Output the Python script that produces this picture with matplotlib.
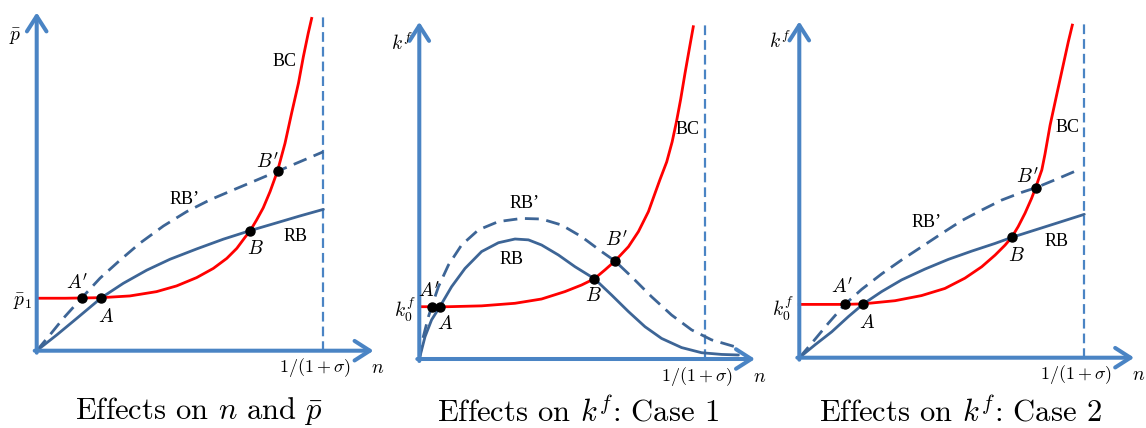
import matplotlib
matplotlib.use("Agg")
import matplotlib.pyplot as plt

plt.rcParams["mathtext.fontset"] = "cm"
plt.rcParams["lines.scale_dashes"] = False

W, H = 1146, 428

# ---------------- data (n scaled so that 1/(1+sigma) = 1) ----------------
# Panel 1: Effects on n and p-bar
p1_bc_n = [0.0, 0.100, 0.226, 0.325, 0.418, 0.488, 0.558, 0.616, 0.663, 0.698, 0.727,
           0.745, 0.767, 0.790, 0.814, 0.840, 0.866, 0.889, 0.913, 0.930, 0.947, 0.959]
p1_bc_y = [0.183, 0.183, 0.185, 0.191, 0.206, 0.226, 0.255, 0.287, 0.322, 0.357, 0.396,
           0.419, 0.456, 0.498, 0.555, 0.627, 0.723, 0.828, 0.933, 1.025, 1.107, 1.159]
p1_rb_n = [0.0, 0.070, 0.140, 0.226, 0.302, 0.384, 0.465, 0.558, 0.651, 0.745, 0.837,
           0.918, 1.0]
p1_rb_y = [0.0, 0.055, 0.113, 0.185, 0.235, 0.281, 0.319, 0.355, 0.389, 0.419, 0.446,
           0.470, 0.493]
p1_rb2_n = [0.0, 0.046, 0.093, 0.157, 0.221, 0.291, 0.360, 0.442, 0.523, 0.604, 0.686,
            0.767, 0.840, 0.918, 1.0]
p1_rb2_y = [0.0, 0.055, 0.113, 0.184, 0.253, 0.316, 0.375, 0.435, 0.485, 0.526, 0.561,
            0.595, 0.626, 0.659, 0.694]
p1_eq_n = [0.157, 0.226, 0.745, 0.840]
p1_eq_y = [0.184, 0.185, 0.419, 0.626]

# Panel 2: Effects on k^f, Case 1
p2_bc_n = [0.0, 0.100, 0.218, 0.335, 0.428, 0.510, 0.568, 0.613, 0.650, 0.685, 0.732,
           0.767, 0.802, 0.825, 0.842, 0.866, 0.885, 0.900, 0.915, 0.930, 0.945, 0.959]
p2_bc_y = [0.183, 0.183, 0.186, 0.195, 0.210, 0.236, 0.259, 0.281, 0.312, 0.343, 0.393,
           0.446, 0.516, 0.580, 0.627, 0.690, 0.760, 0.830, 0.910, 1.000, 1.085, 1.163]
p2_rb_n = [0.0, 0.020, 0.043, 0.072, 0.113, 0.160, 0.218, 0.277, 0.335, 0.382, 0.428,
           0.487, 0.545, 0.613, 0.673, 0.732, 0.790, 0.848, 0.918, 0.988, 1.058, 1.117]
p2_rb_y = [0.0, 0.078, 0.137, 0.183, 0.253, 0.317, 0.376, 0.407, 0.420, 0.417, 0.399,
           0.364, 0.323, 0.281, 0.224, 0.166, 0.113, 0.072, 0.040, 0.022, 0.016, 0.014]
p2_rb2_n = [0.0, 0.014, 0.032, 0.043, 0.067, 0.102, 0.148, 0.207, 0.277, 0.358, 0.428,
            0.498, 0.568, 0.638, 0.685, 0.743, 0.813, 0.883, 0.953, 1.023, 1.105]
p2_rb2_y = [0.0, 0.078, 0.148, 0.183, 0.253, 0.329, 0.399, 0.452, 0.481, 0.492, 0.490,
            0.469, 0.428, 0.376, 0.343, 0.288, 0.218, 0.154, 0.102, 0.067, 0.043]
p2_eq_n = [0.043, 0.072, 0.613, 0.685]
p2_eq_y = [0.183, 0.183, 0.281, 0.343]

# Panel 3: Effects on k^f, Case 2
p3_bc_n = [0.0, 0.160, 0.225, 0.336, 0.429, 0.511, 0.581, 0.640, 0.687, 0.722, 0.745,
           0.768, 0.792, 0.815, 0.829, 0.851, 0.862, 0.880, 0.903, 0.926, 0.944, 0.958]
p3_bc_y = [0.187, 0.187, 0.189, 0.200, 0.218, 0.243, 0.279, 0.319, 0.360, 0.395, 0.422,
           0.460, 0.507, 0.559, 0.596, 0.659, 0.714, 0.816, 0.922, 1.027, 1.109, 1.167]
p3_rb_n = [0.0, 0.055, 0.114, 0.172, 0.225, 0.289, 0.359, 0.441, 0.523, 0.605, 0.687,
           0.745, 0.827, 0.909, 1.0]
p3_rb_y = [0.0, 0.045, 0.091, 0.144, 0.189, 0.232, 0.273, 0.311, 0.345, 0.374, 0.401,
           0.422, 0.448, 0.474, 0.503]
p3_rb2_n = [0.0, 0.043, 0.102, 0.160, 0.219, 0.289, 0.359, 0.429, 0.500, 0.570, 0.640,
            0.710, 0.780, 0.829, 0.897, 0.979]
p3_rb2_y = [0.0, 0.050, 0.121, 0.187, 0.240, 0.294, 0.343, 0.389, 0.436, 0.481, 0.518,
            0.553, 0.580, 0.596, 0.624, 0.659]
p3_eq_n = [0.160, 0.225, 0.745, 0.829]
p3_eq_y = [0.187, 0.189, 0.422, 0.596]

titles = [r"Effects on $n$ and $\bar{p}$",
          r"Effects on $k^f$: Case 1",
          r"Effects on $k^f$: Case 2"]
ylabels = [r"$\bar{p}$", r"$k^f$", r"$k^f$"]
level_labels = [r"$\bar{p}_1$", r"$k_0^f$", r"$k_0^f$"]
xtick_label = r"$1/(1+\sigma)$"
xlabel = r"$n$"

# ---------------- styles / layout ----------------
AX_C = "#4a84c4"
RB_C = "#3d6596"
BC_C = "#ff0000"

# (origin x px, origin y px, px per unit, region left px, region right px)
layouts = [(36.7, 350.7, 286.7, 0, 380),
           (419.3, 359.0, 285.7, 380, 770),
           (799.3, 357.7, 285.0, 770, 1146)]

# label positions (data units) per panel
lab_pos = [
    dict(BC=(0.866, 1.007), RBp=(0.517, 0.529), RB=(0.904, 0.400),
         Bp=(0.803, 0.658), B=(0.764, 0.358), Ap=(0.141, 0.236), A=(0.242, 0.118),
         lvl=(-0.051, 0.170), yl=(-0.076, 1.094), title=(199, 419)),
    dict(BC=(0.940, 0.805), RBp=(0.370, 0.546), RB=(0.324, 0.350),
         Bp=(0.689, 0.417), B=(0.608, 0.221), Ap=(0.034, 0.238), A=(0.090, 0.126),
         lvl=(-0.050, 0.172), yl=(-0.061, 1.106), title=(578, 422)),
    dict(BC=(0.942, 0.809), RBp=(0.447, 0.473), RB=(0.904, 0.406),
         Bp=(0.801, 0.634), B=(0.763, 0.360), Ap=(0.149, 0.248), A=(0.236, 0.122),
         lvl=(-0.058, 0.174), yl=(-0.068, 1.111), title=(960, 421)),
]

panels = [
    (p1_bc_n, p1_bc_y, p1_rb_n, p1_rb_y, p1_rb2_n, p1_rb2_y, p1_eq_n, p1_eq_y),
    (p2_bc_n, p2_bc_y, p2_rb_n, p2_rb_y, p2_rb2_n, p2_rb2_y, p2_eq_n, p2_eq_y),
    (p3_bc_n, p3_bc_y, p3_rb_n, p3_rb_y, p3_rb2_n, p3_rb2_y, p3_eq_n, p3_eq_y),
]

fig = plt.figure(figsize=(W / 100, H / 100), dpi=100)
fig.patch.set_facecolor("white")

arrow_style = "->,head_length=0.5,head_width=0.32"
serif = "Liberation Serif"

for i, (lay, dat, lp) in enumerate(zip(layouts, panels, lab_pos)):
    ox, oy, s, x0, x1 = lay
    ax = fig.add_axes([x0 / W, 0, (x1 - x0) / W, 1])
    ax.set_xlim((x0 - ox) / s, (x1 - ox) / s)
    ax.set_ylim((oy - H) / s, oy / s)
    ax.axis("off")

    bc_n, bc_y, rb_n, rb_y, rb2_n, rb2_y, eq_n, eq_y = dat

    # axes arrows
    ax.annotate("", xy=(0, 1.18), xytext=(0, -0.007),
                arrowprops=dict(arrowstyle=arrow_style, lw=2.9, color=AX_C,
                                mutation_scale=22, shrinkA=0, shrinkB=0))
    ax.annotate("", xy=(1.175, 0), xytext=(-0.007, 0),
                arrowprops=dict(arrowstyle=arrow_style, lw=2.9, color=AX_C,
                                mutation_scale=22, shrinkA=0, shrinkB=0))
    # vertical dashed 1/(1+sigma)
    ax.plot([1, 1], [0, 1.17], color=AX_C, lw=1.6, dashes=(7, 3.6))

    # curves
    ax.plot(rb_n, rb_y, color=RB_C, lw=2.0, solid_joinstyle="round",
            solid_capstyle="round")
    ax.plot(rb2_n, rb2_y, color=RB_C, lw=2.0, dashes=(10, 5.5),
            dash_joinstyle="round")
    ax.plot(bc_n, bc_y, color=BC_C, lw=2.0, solid_joinstyle="round")
    ax.plot(eq_n, eq_y, "o", color="black", ms=6.5, zorder=5)

    # curve labels
    ax.text(*lp["BC"], "BC", fontsize=13, family=serif, ha="center", va="center")
    ax.text(*lp["RBp"], "RB\u2019", fontsize=13, family=serif, ha="center", va="center")
    ax.text(*lp["RB"], "RB", fontsize=13, family=serif, ha="center", va="center")
    for key, txt in (("Bp", r"$B'$"), ("B", r"$B$"), ("Ap", r"$A'$"), ("A", r"$A$")):
        ax.text(*lp[key], txt, fontsize=14, ha="center", va="center")
    ax.text(*lp["lvl"], level_labels[i], fontsize=14, ha="center", va="center")
    ax.text(*lp["yl"], ylabels[i], fontsize=14, ha="center", va="center")
    ax.text(0.972, -0.060, xtick_label, fontsize=13, ha="center", va="center")
    ax.text(1.19, -0.060, xlabel, fontsize=14, ha="center", va="center")

    tx, ty = lp["title"]
    ax.text((tx - ox) / s, (oy - ty) / s, titles[i], fontsize=22,
            family="cmr10", ha="center", va="baseline")

fig.savefig("out.png", dpi=100, facecolor="white")
